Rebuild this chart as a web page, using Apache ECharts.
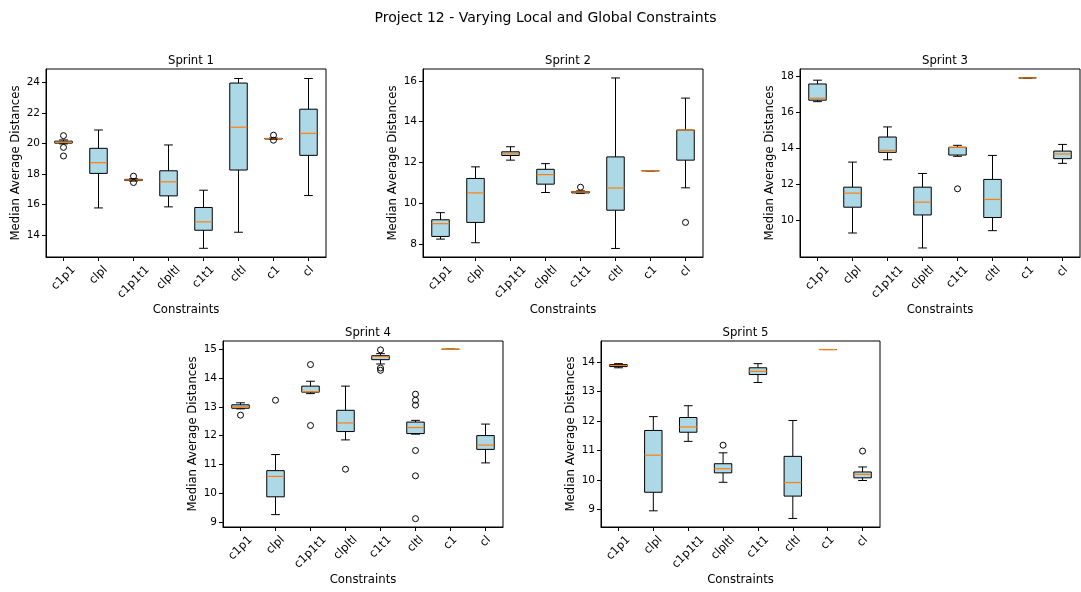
<!DOCTYPE html>
<html>
<head>
<meta charset="utf-8">
<script src="https://cdn.jsdelivr.net/npm/echarts@6/dist/echarts.min.js"></script>
<style>
html,body{margin:0;padding:0;background:#fff;}
#chart{width:1081px;height:592px;}
</style>
</head>
<body>
<div id="chart"></div>
<script>
// ---- data ----
const mainTitle = 'Project 12 - Varying Local and Global Constraints';
const sprintTitles = ['Sprint 1', 'Sprint 2', 'Sprint 3', 'Sprint 4', 'Sprint 5'];
const categories = ['c1p1', 'clpl', 'c1p1t1', 'clpltl', 'c1t1', 'cltl', 'c1', 'cl'];
const xLabel = 'Constraints';
const yLabel = 'Median Average Distances';

// box stats per category: [lowerWhisker, Q1, median, Q3, upperWhisker]
const sprint1Box = [
  [19.98, 20.03, 20.09, 20.16, 20.24],
  [15.79, 18.05, 18.75, 19.69, 20.89],
  [17.55, 17.58, 17.62, 17.66, 17.70],
  [15.86, 16.58, 17.50, 18.22, 19.91],
  [13.15, 14.33, 14.88, 15.82, 16.95],
  [14.20, 18.27, 21.07, 23.96, 24.26],
  [20.28, 20.30, 20.32, 20.34, 20.36],
  [16.60, 19.23, 20.67, 22.25, 24.26]
];
const sprint1Out = [[0, 20.52], [0, 19.75], [0, 19.19], [2, 17.87], [2, 17.45], [6, 20.55], [6, 20.22]];

const sprint2Box = [
  [8.23, 8.36, 8.99, 9.18, 9.53],
  [8.05, 9.05, 10.50, 11.21, 11.78],
  [12.11, 12.34, 12.42, 12.52, 12.77],
  [10.52, 10.93, 11.40, 11.66, 11.94],
  [10.48, 10.50, 10.55, 10.57, 10.60],
  [7.77, 9.65, 10.74, 12.27, 16.15],
  [11.59, 11.59, 11.59, 11.59, 11.59],
  [10.75, 12.11, 13.59, 13.59, 15.16]
];
const sprint2Out = [[4, 10.78], [7, 9.05]];

const sprint3Box = [
  [16.59, 16.67, 16.78, 17.57, 17.78],
  [9.31, 10.74, 11.52, 11.85, 13.24],
  [13.37, 13.78, 13.89, 14.63, 15.19],
  [8.48, 10.31, 11.02, 11.85, 12.61],
  [13.56, 13.63, 14.06, 14.06, 14.17],
  [9.44, 10.17, 11.17, 12.28, 13.61],
  [17.91, 17.91, 17.91, 17.91, 17.91],
  [13.17, 13.43, 13.69, 13.85, 14.22]
];
const sprint3Out = [[4, 11.76]];

const sprint4Box = [
  [12.93, 12.95, 13.00, 13.07, 13.14],
  [9.25, 9.87, 10.58, 10.78, 11.34],
  [13.46, 13.51, 13.53, 13.72, 13.89],
  [11.85, 12.14, 12.44, 12.88, 13.72],
  [14.49, 14.64, 14.75, 14.78, 14.85],
  [12.05, 12.07, 12.28, 12.47, 12.53],
  [15.00, 15.00, 15.00, 15.00, 15.00],
  [11.05, 11.52, 11.67, 12.00, 12.40]
];
const sprint4Out = [[0, 12.71], [1, 13.23], [2, 14.47], [2, 12.35], [3, 10.83],
  [4, 14.98], [4, 14.35], [4, 14.27],
  [5, 13.44], [5, 13.23], [5, 13.06], [5, 11.48], [5, 10.60], [5, 9.11]];

const sprint5Box = [
  [13.81, 13.85, 13.89, 13.92, 13.95],
  [8.95, 9.58, 10.84, 11.68, 12.15],
  [11.31, 11.62, 11.80, 12.12, 12.52],
  [9.92, 10.24, 10.38, 10.55, 10.92],
  [13.31, 13.58, 13.69, 13.81, 13.95],
  [8.69, 9.45, 9.91, 10.80, 12.02],
  [14.43, 14.43, 14.43, 14.43, 14.43],
  [9.98, 10.07, 10.19, 10.27, 10.44]
];
const sprint5Out = [[3, 11.18], [7, 10.98]];

// y-axis ranges and tick labels
const yRanges = [[12.58, 24.88], [7.35, 16.59], [7.98, 18.40], [8.82, 15.29], [8.40, 14.72]];
const yTicks = [
  [14, 16, 18, 20, 22, 24],
  [8, 10, 12, 14, 16],
  [10, 12, 14, 16, 18],
  [9, 10, 11, 12, 13, 14, 15],
  [9, 10, 11, 12, 13, 14]
];

const allBoxes = [sprint1Box, sprint2Box, sprint3Box, sprint4Box, sprint5Box];
const allOut = [sprint1Out, sprint2Out, sprint3Out, sprint4Out, sprint5Out];

// ---- layout ----
const grids = [
  {left: 46, top: 69, width: 280, height: 188},
  {left: 423, top: 69, width: 280, height: 188},
  {left: 800, top: 69, width: 280, height: 188},
  {left: 223, top: 341, width: 280, height: 186},
  {left: 601, top: 341, width: 279, height: 186}
];

const FONT = 'DejaVu Sans';
const TICK_FS = 10.5;
const XTICK_FS = 11.5;

// rotated x tick labels: emulate matplotlib (rotated bbox centred under the tick, top at pad)
const measureCtx = document.createElement('canvas').getContext('2d');
measureCtx.font = XTICK_FS + 'px "' + FONT + '"';
const xRich = {};
categories.forEach((c, k) => {
  const L = measureCtx.measureText(c).width;
  const p = 0.5 * (L + XTICK_FS);
  xRich['t' + k] = {padding: [p, p, 0, 0], fontFamily: FONT, fontSize: XTICK_FS, color: '#000'};
});

function renderBox(params, api) {
  const x = api.value(0);
  const lo = api.coord([x, api.value(1)]);
  const q1 = api.coord([x, api.value(2)]);
  const md = api.coord([x, api.value(3)]);
  const q3 = api.coord([x, api.value(4)]);
  const hi = api.coord([x, api.value(5)]);
  const band = api.size([1, 0])[0];
  const bw = band * 0.5, cw = band * 0.25;
  const cx = lo[0];
  const ls = {stroke: '#000', lineWidth: 1, fill: null};
  return {
    type: 'group',
    children: [
      {type: 'line', shape: {x1: cx, y1: q1[1], x2: cx, y2: lo[1]}, style: ls},
      {type: 'line', shape: {x1: cx, y1: q3[1], x2: cx, y2: hi[1]}, style: ls},
      {type: 'line', shape: {x1: cx - cw / 2, y1: lo[1], x2: cx + cw / 2, y2: lo[1]}, style: ls},
      {type: 'line', shape: {x1: cx - cw / 2, y1: hi[1], x2: cx + cw / 2, y2: hi[1]}, style: ls},
      {type: 'rect', shape: {x: cx - bw / 2, y: q3[1], width: bw, height: q1[1] - q3[1]},
        style: {fill: '#add8e6', stroke: '#000', lineWidth: 1}},
      {type: 'line', shape: {x1: cx - bw / 2, y1: md[1], x2: cx + bw / 2, y2: md[1]},
        style: {stroke: '#ff7f0e', lineWidth: 1.2}}
    ]
  };
}

const option = {
  animation: false,
  backgroundColor: '#fff',
  textStyle: {fontFamily: FONT},
  title: [
    {text: mainTitle, left: 540.5, top: 6, textAlign: 'center',
      textStyle: {fontFamily: FONT, fontSize: 14, fontWeight: 'normal', color: '#000'}}
  ].concat(grids.map((g, i) => ({
    text: sprintTitles[i], left: g.left + g.width / 2, top: g.top - 19, textAlign: 'center',
    textStyle: {fontFamily: FONT, fontSize: 11.7, fontWeight: 'normal', color: '#000'}
  }))),
  grid: grids.map(g => Object.assign({show: true, borderColor: '#000', borderWidth: 1, backgroundColor: 'transparent'}, g)),
  xAxis: grids.map((g, i) => ({
    type: 'category', gridIndex: i, data: categories, boundaryGap: true,
    name: xLabel, nameLocation: 'middle', nameGap: 47,
    nameTextStyle: {fontFamily: FONT, fontSize: 11.7, color: '#000'},
    axisLine: {show: true, lineStyle: {color: '#000', width: 1}},
    axisTick: {show: true, alignWithLabel: true, length: 4, lineStyle: {color: '#000'}},
    axisLabel: {rotate: 45, margin: 7, align: 'center', verticalAlign: 'middle',
      fontFamily: FONT, fontSize: XTICK_FS, color: '#000', interval: 0,
      formatter: (v, k) => '{t' + k + '|' + v + '}', rich: xRich},
    splitLine: {show: false}
  })),
  yAxis: grids.map((g, i) => ({
    type: 'value', gridIndex: i, min: yRanges[i][0], max: yRanges[i][1],
    name: yLabel, nameLocation: 'middle', nameGap: 24,
    nameTextStyle: {fontFamily: FONT, fontSize: 11.7, color: '#000'},
    axisLine: {show: true, lineStyle: {color: '#000', width: 1}},
    axisTick: {show: true, length: 4, lineStyle: {color: '#000'}, customValues: yTicks[i]},
    axisLabel: {margin: 6, fontFamily: FONT, fontSize: TICK_FS, color: '#000', customValues: yTicks[i],
      showMinLabel: true, showMaxLabel: true},
    splitLine: {show: false}
  })),
  series: []
};

allBoxes.forEach((boxes, i) => {
  option.series.push({
    type: 'custom', xAxisIndex: i, yAxisIndex: i,
    renderItem: renderBox,
    encode: {x: 0, y: [1, 2, 3, 4, 5]},
    data: boxes.map((b, k) => [k].concat(b)),
    z: 2
  });
  option.series.push({
    type: 'scatter', xAxisIndex: i, yAxisIndex: i,
    symbol: 'circle', symbolSize: 6,
    itemStyle: {color: 'rgba(0,0,0,0)', borderColor: '#000', borderWidth: 1, opacity: 1},
    data: allOut[i],
    z: 3
  });
});

const chart = echarts.init(document.getElementById('chart'), null, {renderer: 'canvas'});
chart.setOption(option);
</script>
</body>
</html>
